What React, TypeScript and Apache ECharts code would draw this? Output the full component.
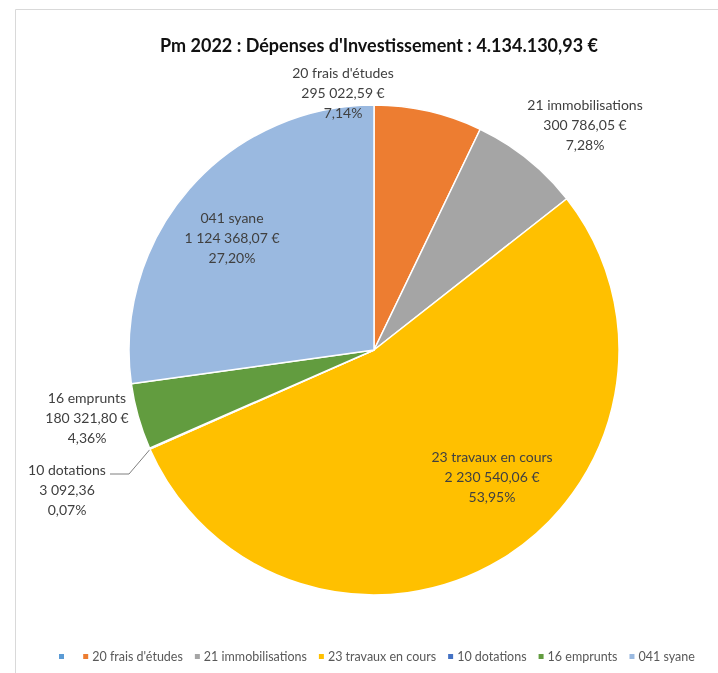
import React, { useEffect, useRef } from "react";
import * as echarts from "echarts";

const categories = [" ", "20 frais d'études", "21 immobilisations", "23 travaux en cours", "10 dotations", "16 emprunts", "041 syane"];
const values = [0, 295022.59, 300786.05, 2230540.06, 3092.36, 180321.8, 1124368.07];
const showEuro = [false, true, true, true, false, true, true];
const colors = ["#5B9BD5", "#ED7D31", "#A5A5A5", "#FFC000", "#4472C4", "#629C3F", "#9AB9E0"];
const titleText = "Pm 2022 : Dépenses d'Investissement : 4.134.130,93 €";

// label anchor positions (text centers) per data index
const labelPos: Record<number, [number, number]> = {
  1: [343, 92],
  2: [585, 124],
  3: [492, 476],
  4: [67, 489],
  5: [87, 417],
  6: [232, 237],
};

const fmt = (v: number) => {
  const [i, d] = v.toFixed(2).split(".");
  return i.replace(/\B(?=(\d{3})+(?!\d))/g, " ") + "," + d;
};

export default function App() {
  const ref = useRef<HTMLDivElement>(null);
  useEffect(() => {
    if (!ref.current) return;
    const chart = echarts.init(ref.current, undefined, { renderer: "svg" });
    const total = values.reduce((a, b) => a + b, 0);
    const font = "Lato, 'Open Sans', sans-serif";
    chart.setOption({
      animation: false,
      color: colors,
      title: {
        text: titleText,
        left: 374,
        top: 31,
        textAlign: "center",
        textStyle: { fontFamily: font, fontSize: 18, fontWeight: "bold", color: "#111" },
      },
      legend: {
        bottom: 5,
        left: 52,
        width: 666,
        icon: "rect",
        itemWidth: 7,
        itemHeight: 7,
        itemGap: 10,
        data: categories,
        textStyle: { fontFamily: font, fontSize: 12.5, color: "#595959", padding: [0, 0, 0, -2] },
        selectedMode: false,
      },
      graphic: [
        {
          type: "rect",
          shape: { x: 15.5, y: 9.5, width: 720, height: 700 },
          style: { fill: "none", stroke: "#d9d9d9", lineWidth: 1 },
          silent: true,
        },
        {
          type: "polyline",
          shape: { points: [[110, 474], [129, 474], [152, 447]] },
          style: { fill: "none", stroke: "#7f7f7f", lineWidth: 1 },
          silent: true,
        },
      ],
      series: [
        {
          type: "pie",
          center: [374, 350],
          radius: 245,
          startAngle: 90,
          clockwise: true,
          itemStyle: { borderColor: "#fff", borderWidth: 1.5 },
          labelLine: { show: false },
          label: {
            show: true,
            position: "inside",
            overflow: "none",
            fontFamily: font,
            fontSize: 14,
            lineHeight: 20,
            color: "#404040",
            align: "center",
            formatter: (p: any) => {
              const i = p.dataIndex;
              if (values[i] === 0) return "";
              const pct = ((values[i] / total) * 100).toFixed(2).replace(".", ",");
              return `${categories[i]}\n${fmt(values[i])}${showEuro[i] ? " €" : ""}\n${pct}%`;
            },
          },
          labelLayout: (p: any) => {
            const pos = labelPos[p.dataIndex];
            if (!pos) return {};
            return { x: pos[0], y: pos[1], align: "center", verticalAlign: "middle", hideOverlap: false, moveOverlap: false };
          },
          data: categories.map((c, i) => ({ name: c, value: values[i] })),
        },
      ],
    });
    return () => chart.dispose();
  }, []);
  return <div ref={ref} style={{ position: "fixed", left: 0, top: 0, width: 718, height: 673 }} />;
}
